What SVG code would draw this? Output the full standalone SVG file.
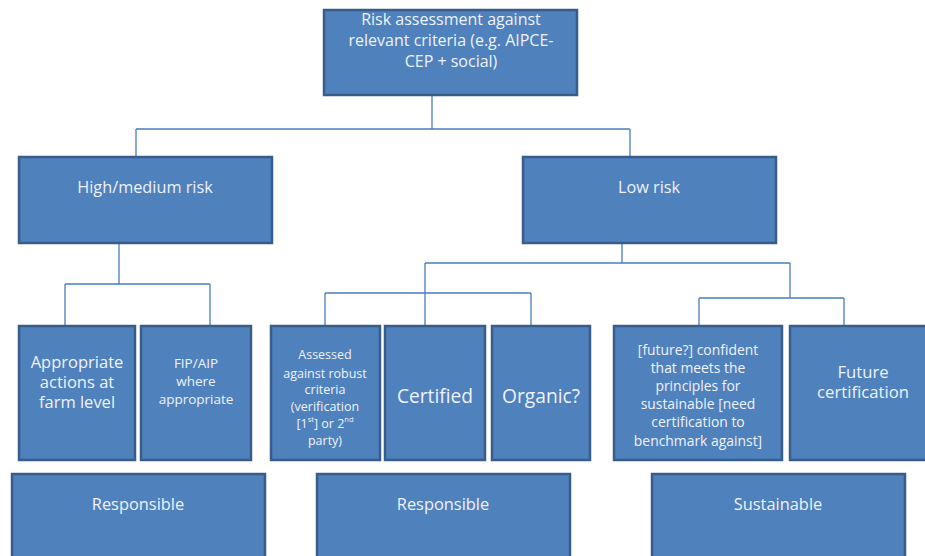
<svg xmlns="http://www.w3.org/2000/svg" width="925" height="556" viewBox="0 0 925 556">
<style>
.box{fill:#4f81bd;stroke:#385d8a;stroke-width:2.5}
.t{fill:#eef2fa;font-family:"Open Sans","Liberation Sans",sans-serif;text-anchor:middle;dominant-baseline:central}
.c{fill:none;stroke:#4a7ebb;stroke-width:1.3}
</style>
<rect width="925" height="556" fill="#fff"/>
<g id="connectors">
<path class="c" d="M432 96V129M136 129H630M136 129V157M630 129V157"/>
<path class="c" d="M119 243V284M65 284H210M65 284V326M210 284V326"/>
<path class="c" d="M622 243V263M425 263H790M425 263V293M325 293H531M325 293V326M425 293V326M531 293V326"/>
<path class="c" d="M790 263V298M699 298H844M699 298V326M844 298V326"/>
</g>
<g id="n-root"><rect class="box" x="324" y="10" width="253" height="85"/>
<text class="t" font-size="16"><tspan x="451" y="19">Risk assessment against</tspan><tspan x="451" y="40">relevant criteria (e.g. AIPCE-</tspan><tspan x="451" y="61">CEP + social)</tspan></text></g>
<g id="n-high"><rect class="box" x="19" y="157" width="253" height="86"/>
<text class="t" font-size="16.3" x="145" y="187">High/medium risk</text></g>
<g id="n-low"><rect class="box" x="523" y="157" width="253" height="86"/>
<text class="t" font-size="16.3" x="649" y="187">Low risk</text></g>
<g id="n-appropriate"><rect class="box" x="19" y="326" width="116" height="134"/>
<text class="t" font-size="16.5"><tspan x="77" y="361">Appropriate</tspan><tspan x="77" y="381">actions at</tspan><tspan x="77" y="401">farm level</tspan></text></g>
<g id="n-fip"><rect class="box" x="141" y="326" width="110" height="134"/>
<text class="t" font-size="13.5"><tspan x="196" y="363">FIP/AIP</tspan><tspan x="196" y="381">where</tspan><tspan x="196" y="399">appropriate</tspan></text></g>
<g id="n-assessed"><rect class="box" x="271" y="326" width="109" height="134"/>
<text class="t" font-size="12.5"><tspan x="325" y="354">Assessed</tspan><tspan x="325" y="373">against robust</tspan><tspan x="325" y="389">criteria</tspan><tspan x="325" y="406">(verification</tspan><tspan x="325" y="423">[1<tspan font-size="7.5" dy="-4">st</tspan><tspan dy="4">] or 2</tspan><tspan font-size="7.5" dy="-4">nd</tspan></tspan><tspan x="325" y="440">party)</tspan></text></g>
<g id="n-certified"><rect class="box" x="385" y="326" width="100" height="134"/>
<text class="t" font-size="19.2" x="435" y="395">Certified</text></g>
<g id="n-organic"><rect class="box" x="492" y="326" width="98" height="134"/>
<text class="t" font-size="19.2" x="541" y="395">Organic?</text></g>
<g id="n-future"><rect class="box" x="614" y="326" width="168" height="134"/>
<text class="t" font-size="13.9"><tspan x="698" y="349">[future?] confident</tspan><tspan x="698" y="367">that meets the</tspan><tspan x="698" y="385">principles for</tspan><tspan x="698" y="403">sustainable [need</tspan><tspan x="698" y="421">certification  to</tspan><tspan x="698" y="440">benchmark against]</tspan></text></g>
<g id="n-futurecert"><rect class="box" x="790" y="326" width="140" height="134"/>
<text class="t" font-size="16.7"><tspan x="863" y="371">Future</tspan><tspan x="863" y="391">certification</tspan></text></g>
<g id="n-resp1"><rect class="box" x="12" y="474" width="253" height="90"/>
<text class="t" font-size="16.4" x="138" y="503">Responsible</text></g>
<g id="n-resp2"><rect class="box" x="317" y="474" width="253" height="90"/>
<text class="t" font-size="16.4" x="443" y="503">Responsible</text></g>
<g id="n-sust"><rect class="box" x="652" y="474" width="253" height="90"/>
<text class="t" font-size="16.4" x="778" y="503">Sustainable</text></g>
</svg>
